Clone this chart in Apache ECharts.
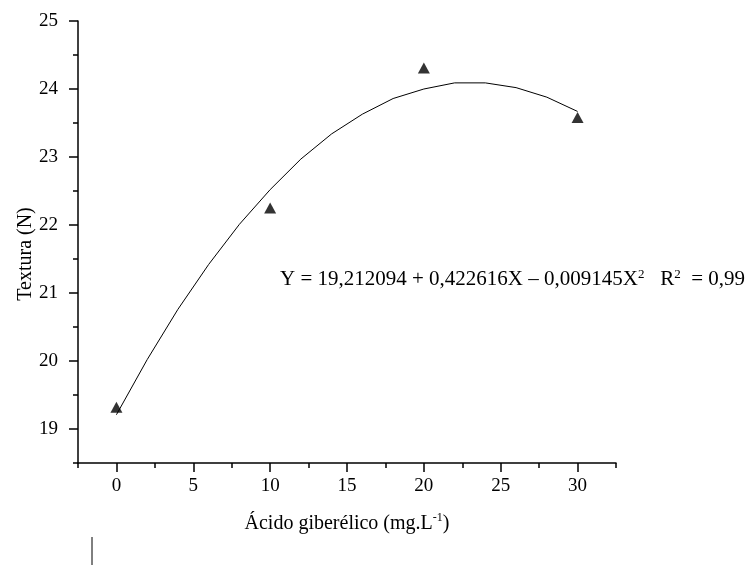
<!DOCTYPE html>
<html>
<head>
<meta charset="utf-8">
<script src="https://cdn.jsdelivr.net/npm/echarts@6/dist/echarts.min.js"></script>
<style>
html, body { margin: 0; padding: 0; background: #fff; }
#main { width: 756px; height: 565px; }
</style>
</head>
<body>
<div id="main"></div>
<script>
// pontos observados
var doseX = [0, 10, 20, 30];
var texturaY = [19.32, 22.25, 24.31, 23.58];

var curvaX = [0, 2, 4, 6, 8, 10, 12, 14, 16, 18, 20, 22, 24, 26, 28, 30];
var curvaY = [19.21, 20.02, 20.76, 21.42, 22.01, 22.52, 22.97, 23.34, 23.63, 23.86, 24.00, 24.09, 24.09, 24.02, 23.88, 23.67];

// marcas dos eixos
var xMajor = [0, 5, 10, 15, 20, 25, 30];
var xMinor = [-2.5, 2.5, 7.5, 12.5, 17.5, 22.5, 27.5, 32.5];
var yMajor = [19, 20, 21, 22, 23, 24, 25];
var yMinor = [18.5, 19.5, 20.5, 21.5, 22.5, 23.5, 24.5];

var fonte = 'Liberation Serif';

function chart(id) {
    var myChart = echarts.init(document.getElementById(id));

    var pontos = doseX.map(function (x, i) { return [x, texturaY[i]]; });
    var curva = curvaX.map(function (x, i) { return [x, curvaY[i]]; });

    var option = {
        animation: false,
        grid: {
            left: 78,
            right: 140,
            top: 21,
            bottom: 102
        },
        xAxis: [
            {
                type: 'value',
                min: -2.5,
                max: 32.5,
                name: 'Ácido giberélico (mg.L{s|-1})',
                nameLocation: 'middle',
                nameGap: 49,
                nameMoveOverlap: false,
                nameTextStyle: {
                    fontFamily: fonte,
                    fontSize: 20,
                    color: '#000',
                    rich: {
                        s: { fontFamily: fonte, fontSize: 12, color: '#000', verticalAlign: 'top', padding: [0, 0, 12, 0] }
                    }
                },
                axisLine: { show: true, onZero: false, lineStyle: { color: '#000', width: 1.5 } },
                axisTick: { show: true, inside: false, length: 9, customValues: xMajor, lineStyle: { color: '#000', width: 1.5 } },
                axisLabel: { show: true, customValues: xMajor, margin: 14, fontFamily: fonte, fontSize: 19, color: '#000' },
                splitLine: { show: false }
            },
            {
                type: 'value',
                min: -2.5,
                max: 32.5,
                position: 'bottom',
                axisLine: { show: false, onZero: false },
                axisTick: { show: true, length: 5, customValues: xMinor, lineStyle: { color: '#000', width: 1.5 } },
                axisLabel: { show: false },
                splitLine: { show: false }
            }
        ],
        yAxis: [
            {
                type: 'value',
                min: 18.5,
                max: 25,
                name: 'Textura (N)',
                nameLocation: 'middle',
                nameGap: 42,
                nameMoveOverlap: false,
                nameTextStyle: {
                    fontFamily: fonte,
                    fontSize: 20,
                    color: '#000',
                    padding: [0, 24, 0, 0]
                },
                axisLine: { show: true, onZero: false, lineStyle: { color: '#000', width: 1.5 } },
                axisTick: { show: true, length: 9, customValues: yMajor, lineStyle: { color: '#000', width: 1.5 } },
                axisLabel: { show: true, customValues: yMajor, margin: 20, fontFamily: fonte, fontSize: 19, color: '#000' },
                splitLine: { show: false }
            },
            {
                type: 'value',
                min: 18.5,
                max: 25,
                position: 'left',
                axisLine: { show: false, onZero: false },
                axisTick: { show: true, length: 5, customValues: yMinor, lineStyle: { color: '#000', width: 1.5 } },
                axisLabel: { show: false },
                splitLine: { show: false }
            }
        ],
        graphic: [
            {
                type: 'text',
                left: 280,
                top: 268,
                style: {
                    text: 'Y = 19,212094 + 0,422616X – 0,009145X{s|2}   R{s|2}  = 0,99',
                    fontFamily: fonte,
                    fontSize: 21,
                    fill: '#000',
                    rich: {
                        s: { fontFamily: fonte, fontSize: 13, fill: '#000', verticalAlign: 'top', padding: [0, 0, 10, 0] }
                    }
                }
            },
            {
                type: 'line',
                shape: { x1: 92, y1: 537, x2: 92, y2: 565 },
                style: { stroke: '#000', lineWidth: 1 }
            }
        ],
        series: [
            {
                name: 'ajuste',
                type: 'line',
                data: curva,
                showSymbol: false,
                smooth: false,
                lineStyle: { color: '#000', width: 1 },
                silent: true
            },
            {
                name: 'textura',
                type: 'scatter',
                data: pontos,
                symbol: 'triangle',
                symbolSize: [12, 11],
                itemStyle: { color: '#000' },
                silent: true,
                z: 3
            }
        ]
    };

    myChart.setOption(option);
}

chart('main');
</script>
</body>
</html>
